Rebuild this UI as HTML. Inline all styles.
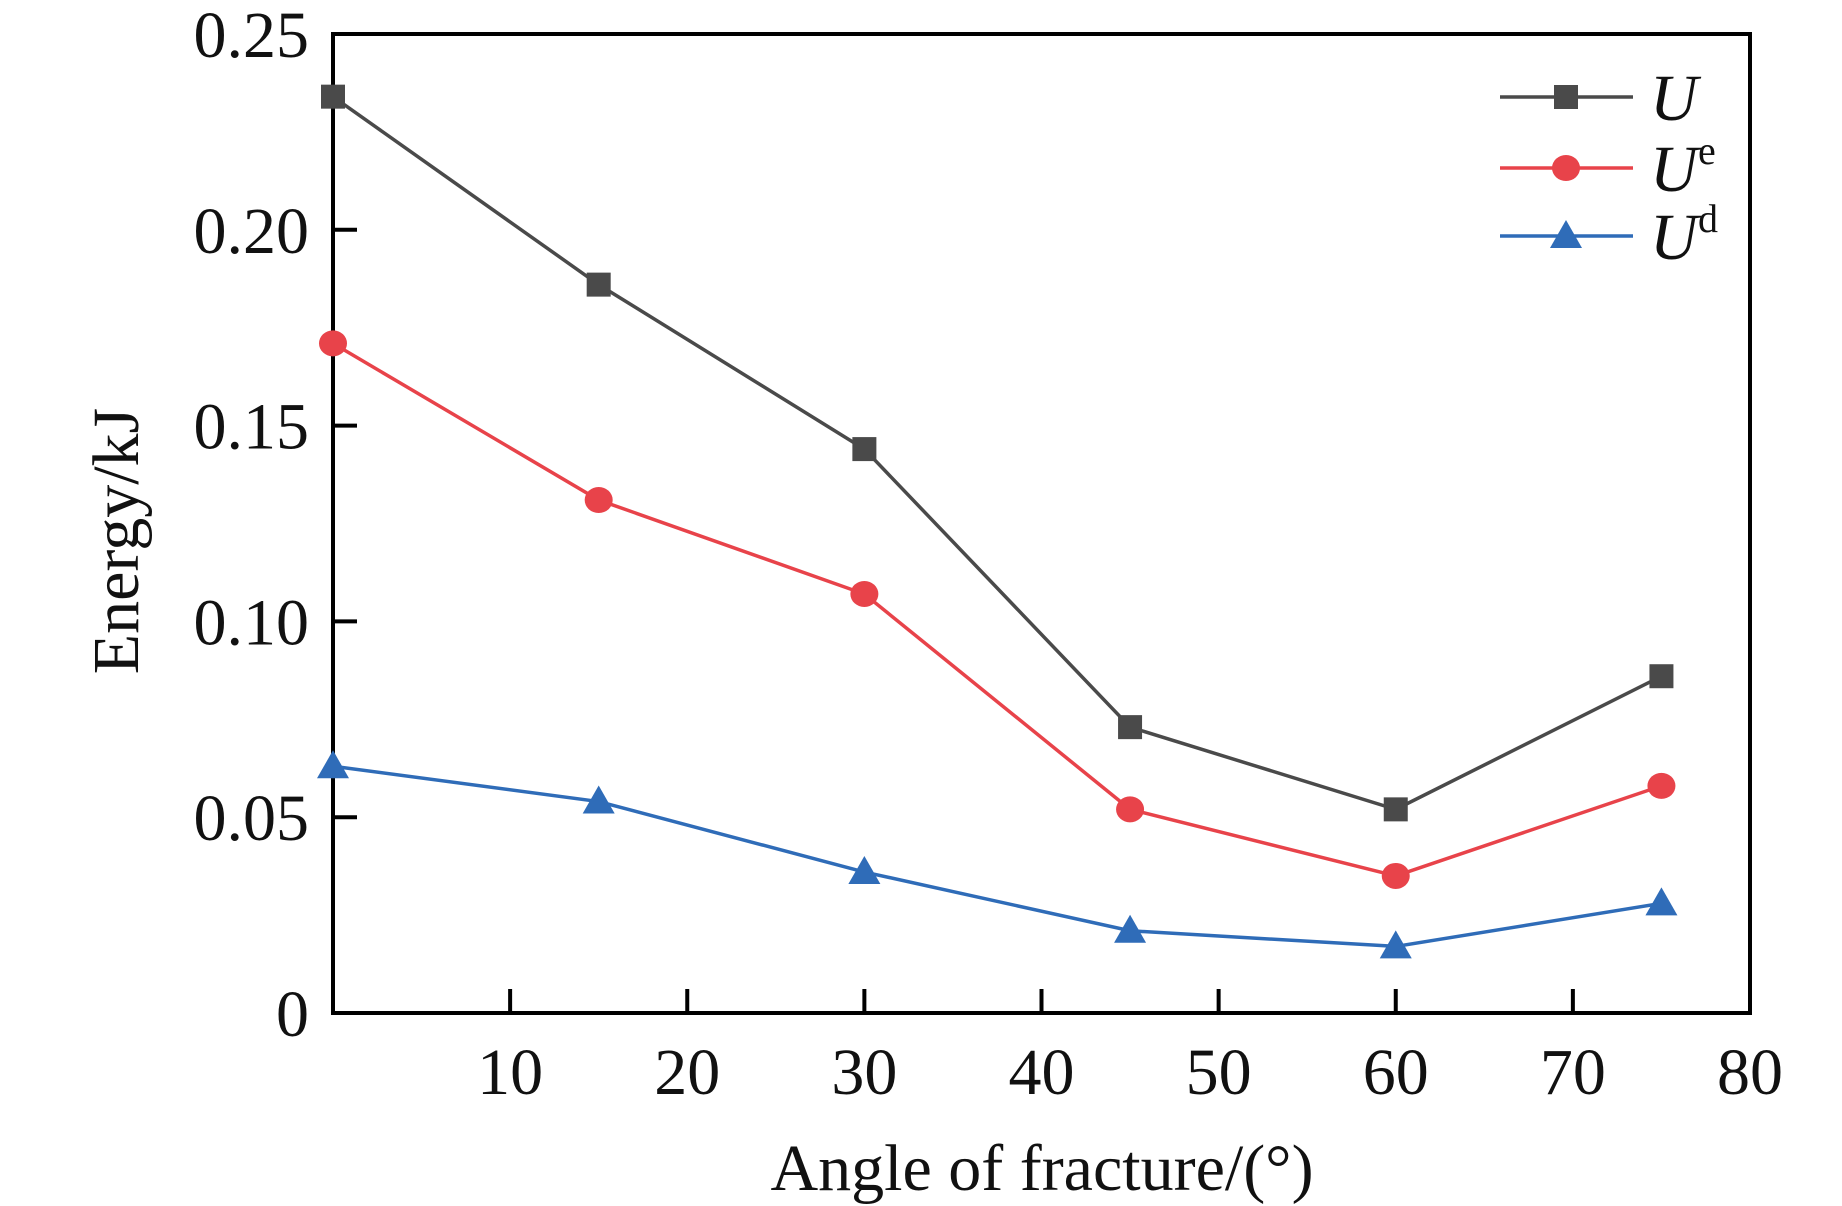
<!DOCTYPE html>
<html><head><meta charset="utf-8"><style>
html,body{margin:0;padding:0;background:#fff;}
svg{display:block;font-family:"Liberation Serif",serif;}
</style></head><body>
<svg id="chart" width="1842" height="1206" viewBox="0 0 1842 1206" xmlns="http://www.w3.org/2000/svg">
<g id="axes"></g>
<g id="series"></g>
<g id="legend"></g>
</svg>
<script>
const categories = [0, 15, 30, 45, 60, 75];
const seriesU = [0.234, 0.186, 0.144, 0.073, 0.052, 0.086];
const seriesUe = [0.171, 0.131, 0.107, 0.052, 0.035, 0.058];
const seriesUd = [0.063, 0.054, 0.036, 0.021, 0.017, 0.028];
const xTicks = [10, 20, 30, 40, 50, 60, 70, 80];
const yTicks = [0, 0.05, 0.10, 0.15, 0.20, 0.25];
const yTickLabels = ["0", "0.05", "0.10", "0.15", "0.20", "0.25"];

const L=333, R=1750, T=34, B=1013;
const xS = v => L + (v/80)*(R-L);
const yS = v => B - (v/0.25)*(B-T);
const NS="http://www.w3.org/2000/svg";
function mk(tag, attrs, parent){const e=document.createElementNS(NS,tag);for(const k in attrs)e.setAttribute(k,attrs[k]);parent.appendChild(e);return e;}
const axes=document.getElementById('axes');
const frame=mk('rect',{x:L,y:T,width:R-L,height:B-T,fill:'none',stroke:'#000','stroke-width':4},axes);


xTicks.forEach(t=>{
  const ln=mk('line',{x1:xS(t),x2:xS(t),y1:B,y2:B-24,stroke:'#000','stroke-width':4},axes);
  
  
  const tx=mk('text',{x:xS(t),y:1094,'font-size':66,'text-anchor':'middle',fill:'#111'},axes);
  tx.textContent=t;
  
  
});
yTicks.forEach((t,i)=>{
  if(i>0){
    const ln=mk('line',{x1:L,x2:L+24,y1:yS(t),y2:yS(t),stroke:'#000','stroke-width':4},axes);
    
    
  }
  const tx=mk('text',{x:309,y:yS(t)+23,'font-size':66,'text-anchor':'end',fill:'#111'},axes);
  tx.textContent=yTickLabels[i];
  
  
});
const xt=mk('text',{x:1042,y:1190,'font-size':66,'text-anchor':'middle',fill:'#111'},axes);
xt.textContent='Angle of fracture/(°)';


const yt=mk('text',{x:0,y:0,'font-size':66,'text-anchor':'middle',fill:'#111',transform:'translate(138,541) rotate(-90)'},axes);
yt.textContent='Energy/kJ';



function marker(type,x,y,color,parent){
  let e;
  if(type==='sq') e=mk('rect',{x:x-12,y:y-12,width:24,height:24,fill:color},parent);
  else if(type==='ci') e=mk('ellipse',{cx:x,cy:y,rx:14,ry:13,fill:color},parent);
  else e=mk('polygon',{points:`${x},${y-16} ${x+16},${y+12} ${x-16},${y+12}`,fill:color},parent);
  return e;
}
const ser=document.getElementById('series');
const defs=[[seriesU,'#4a4a4a','sq','u'],[seriesUe,'#e8434a','ci','ue'],[seriesUd,'#2f6cb8','tr','ud']];
defs.forEach(([vals,col,m,nm])=>{
  const pl=mk('polyline',{points:vals.map((v,i)=>xS(categories[i])+','+yS(v)).join(' '),fill:'none',stroke:col,'stroke-width':3.5},ser);
  
  
  vals.forEach((v,i)=>{
    const p=marker(m,xS(categories[i]),yS(v),col,ser);
    
    
  });
});
const leg=document.getElementById('legend');
const legItems=[['#4a4a4a','sq','',97],['#e8434a','ci','e',168],['#2f6cb8','tr','d',236]];
legItems.forEach(([col,m,sup,y])=>{
  const ln=mk('line',{x1:1500,x2:1633,y1:y,y2:y,stroke:col,'stroke-width':3.5},leg);
  
  
  const mm=marker(m,1566,y,col,leg);
  
  
  const tx=mk('text',{x:1650,y:y+23,'font-size':66,'font-style':'italic',fill:'#111'},leg);
  tx.textContent='U';
  
  
  if(sup){
    const s=mk('text',{x:1698,y:y-4,'font-size':40,fill:'#111'},leg);
    s.textContent=sup;
    
    
  }
});
</script>
</body></html>
